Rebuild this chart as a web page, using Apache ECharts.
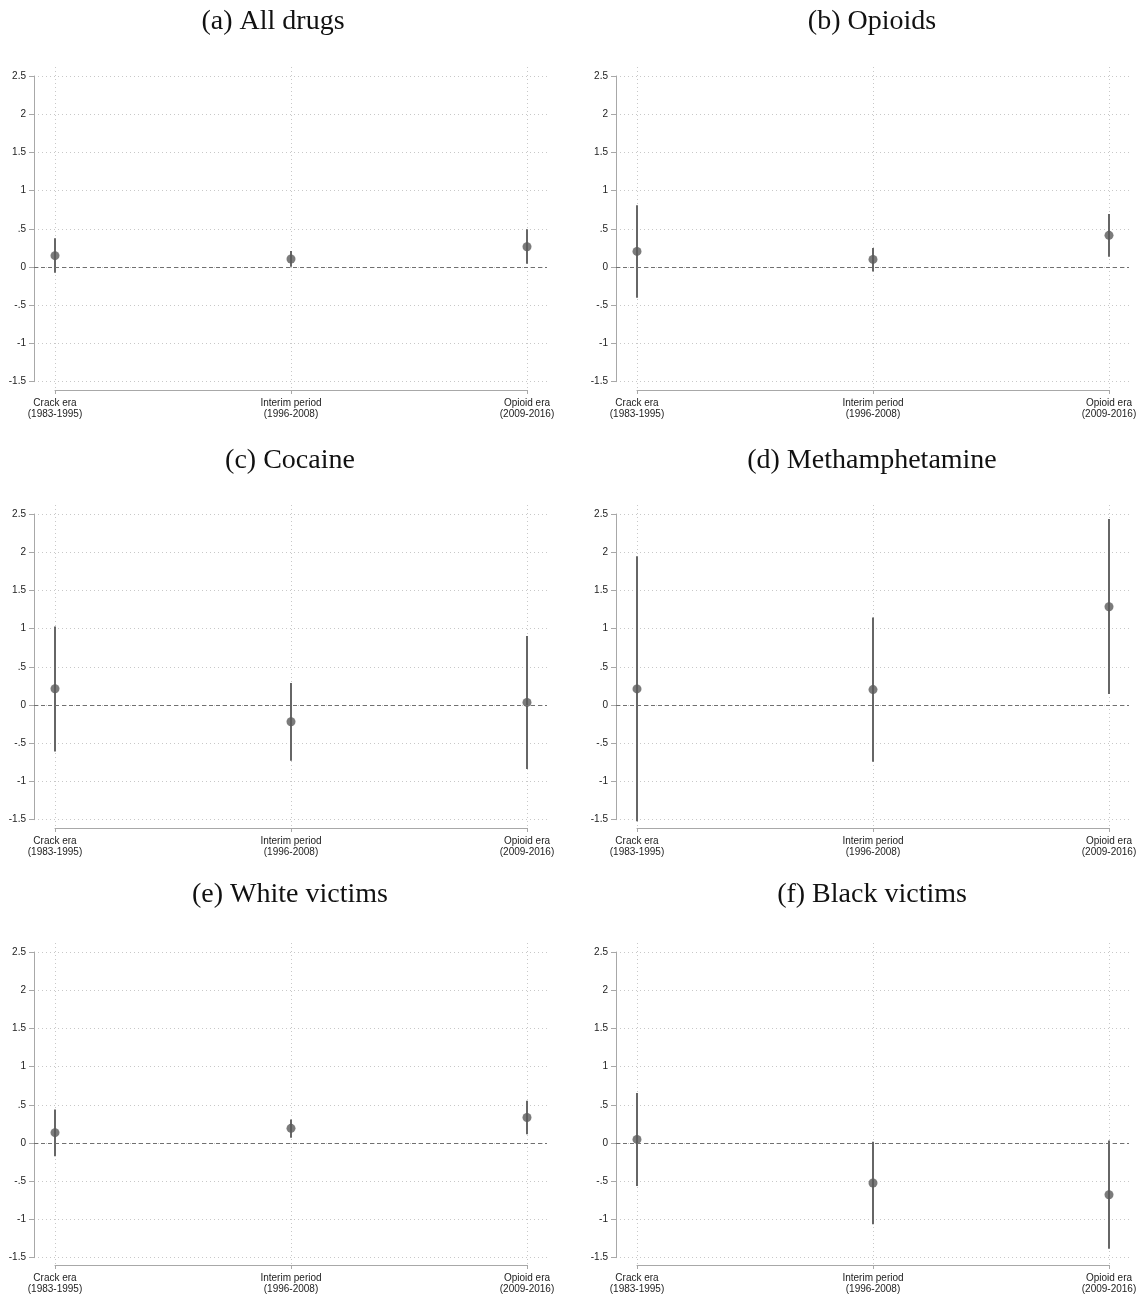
<!DOCTYPE html>
<html>
<head>
<meta charset="utf-8">
<script src="https://cdn.jsdelivr.net/npm/echarts@6/dist/echarts.min.js"></script>
<style>
html,body{margin:0;padding:0;background:#fff;}
#chart{width:1142px;height:1295px;}
</style>
</head>
<body>
<div id="chart"></div>
<script>
// ---- Data ----
const eraNames = ['Crack era', 'Interim period', 'Opioid era'];
const eraYears = ['(1983-1995)', '(1996-2008)', '(2009-2016)'];
const yTickLabels = ['-1.5', '-1', '-.5', '0', '.5', '1', '1.5', '2', '2.5'];
const panelTitles = ['(a) All drugs', '(b) Opioids', '(c) Cocaine', '(d) Methamphetamine', '(e) White victims', '(f) Black victims'];

const allDrugsEst = [0.149, 0.105, 0.266];
const allDrugsLo  = [-0.074, 0.004, 0.043];
const allDrugsHi  = [0.376, 0.210, 0.494];

const opioidsEst = [0.205, 0.100, 0.415];
const opioidsLo  = [-0.402, -0.057, 0.135];
const opioidsHi  = [0.809, 0.249, 0.695];

const cocaineEst = [0.214, -0.219, 0.035];
const cocaineLo  = [-0.608, -0.730, -0.835];
const cocaineHi  = [1.027, 0.289, 0.905];

const methEst = [0.211, 0.202, 1.287];
const methLo  = [-1.520, -0.742, 0.145];
const methHi  = [1.946, 1.147, 2.434];

const whiteEst = [0.136, 0.193, 0.334];
const whiteLo  = [-0.171, 0.070, 0.114];
const whiteHi  = [0.439, 0.308, 0.554];

const blackEst = [0.048, -0.523, -0.677];
const blackLo  = [-0.562, -1.063, -1.384];
const blackHi  = [0.655, 0.018, 0.035];

const panels = [
  [allDrugsEst, allDrugsLo, allDrugsHi],
  [opioidsEst, opioidsLo, opioidsHi],
  [cocaineEst, cocaineLo, cocaineHi],
  [methEst, methLo, methHi],
  [whiteEst, whiteLo, whiteHi],
  [blackEst, blackLo, blackHi]
];

// ---- Layout ----
const COL_OFF = 582, ROW_OFF = 438;
const MAIN_LEFT = 34, MAIN_TOP = 76, MAIN_W = 513, MAIN_H = 305.7;
const CAT_LEFT = 55, CAT_W = 472, CAT_TOP = 67, CAT_H = 323;
const PX_PER_UNIT = CAT_W / 2;
const xMinMain = -(CAT_LEFT - MAIN_LEFT) / PX_PER_UNIT;
const xMaxMain = 2 + (MAIN_LEFT + MAIN_W - CAT_LEFT - CAT_W) / PX_PER_UNIT;
const titlePos = [[273, 22], [872, 22], [290, 461], [872, 461], [290, 895], [872, 895]];

const grids = [], xAxes = [], yAxes = [], series = [], graphics = [];
const sans = 'Liberation Sans, Arial, sans-serif';

panels.forEach((p, i) => {
  const col = i % 2, row = Math.floor(i / 2);
  const ox = col * COL_OFF, oy = row * ROW_OFF;
  const gMain = grids.length;
  grids.push({left: MAIN_LEFT + ox, top: MAIN_TOP + oy, width: MAIN_W, height: MAIN_H});
  const gCat = grids.length;
  grids.push({left: CAT_LEFT + ox, top: CAT_TOP + oy, width: CAT_W, height: CAT_H});

  // main grid axes
  xAxes.push({gridIndex: gMain, type: 'value', min: xMinMain, max: xMaxMain, show: false});
  yAxes.push({
    gridIndex: gMain, type: 'value', min: -1.5, max: 2.5, interval: 0.5, position: 'left',
    axisLine: {show: true, onZero: false, lineStyle: {color: '#a8a8a8', width: 1}},
    axisTick: {show: true, length: 5, lineStyle: {color: '#a8a8a8'}},
    axisLabel: {
      show: true, margin: 8, fontSize: 10, fontFamily: sans, color: '#222',
      formatter: v => yTickLabels[Math.round((v + 1.5) / 0.5)]
    },
    splitLine: {show: true, lineStyle: {type: [1, 3], color: '#c8c8c8', width: 1}}
  });
  // category grid axes
  xAxes.push({
    gridIndex: gCat, type: 'value', min: 0, max: 2, interval: 1, position: 'bottom',
    axisLine: {show: true, onZero: false, lineStyle: {color: '#a8a8a8', width: 1}},
    axisTick: {show: true, length: 4, lineStyle: {color: '#a8a8a8'}},
    axisLabel: {
      show: true, margin: 8, fontSize: 10, lineHeight: 11, fontFamily: sans, color: '#222',
      formatter: v => eraNames[v] + '\n' + eraYears[v]
    },
    splitLine: {show: true, lineStyle: {type: [1, 3], color: '#c8c8c8', width: 1}}
  });
  yAxes.push({gridIndex: gCat, type: 'value', min: 0, max: 1, show: false, splitLine: {show: false}});

  const [est, lo, hi] = p;
  const axisIdx = gMain;
  series.push({
    type: 'custom',
    xAxisIndex: axisIdx, yAxisIndex: axisIdx,
    data: est.map((_, k) => [k, lo[k], hi[k]]),
    renderItem: (params, api) => {
      const a = api.coord([api.value(0), api.value(1)]);
      const b = api.coord([api.value(0), api.value(2)]);
      return {type: 'line', shape: {x1: a[0], y1: a[1], x2: b[0], y2: b[1]},
              style: {stroke: '#666666', lineWidth: 2}};
    },
    z: 3, silent: true, animation: false
  });
  series.push({
    type: 'scatter',
    xAxisIndex: axisIdx, yAxisIndex: axisIdx,
    data: est.map((v, k) => [k, v]),
    symbol: 'circle', symbolSize: 9,
    itemStyle: {color: '#5a5a5a'},
    z: 4, silent: true, animation: false,
    markLine: {
      silent: true, symbol: 'none', animation: false,
      label: {show: false},
      lineStyle: {type: [4, 3], color: '#707070', width: 1},
      data: [{yAxis: 0}]
    }
  });

  graphics.push({
    type: 'text', x: titlePos[i][0], y: titlePos[i][1],
    style: {text: panelTitles[i], textAlign: 'center', textVerticalAlign: 'middle',
            fontFamily: 'Liberation Serif, Times New Roman, serif', fontSize: 28, fill: '#111'}
  });
});

const chart = echarts.init(document.getElementById('chart'), null, {renderer: 'canvas'});
chart.setOption({
  backgroundColor: '#ffffff',
  animation: false,
  grid: grids,
  xAxis: xAxes,
  yAxis: yAxes,
  series: series,
  graphic: graphics
});
</script>
</body>
</html>
